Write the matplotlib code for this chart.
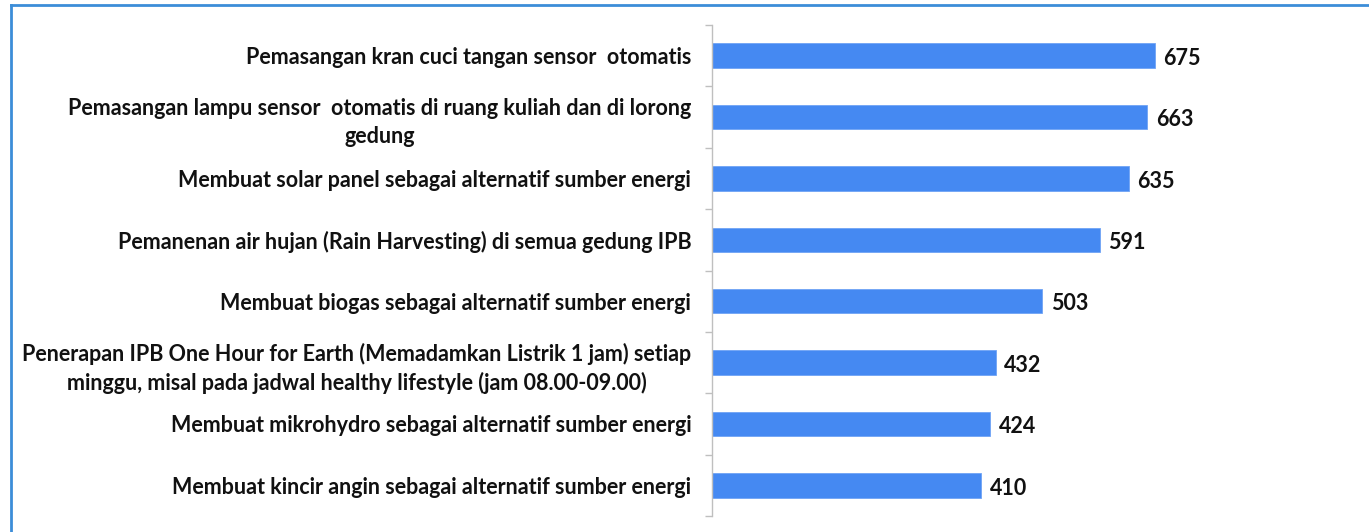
import matplotlib
matplotlib.use("Agg")
import matplotlib.pyplot as plt
import numpy as np
from matplotlib.lines import Line2D

categories = [
    "Pemasangan kran cuci tangan sensor  otomatis",
    "Pemasangan lampu sensor  otomatis di ruang kuliah dan di lorong\ngedung",
    "Membuat solar panel sebagai alternatif sumber energi",
    "Pemanenan air hujan (Rain Harvesting) di semua gedung IPB",
    "Membuat biogas sebagai alternatif sumber energi",
    "Penerapan IPB One Hour for Earth (Memadamkan Listrik 1 jam) setiap\nminggu, misal pada jadwal healthy lifestyle (jam 08.00-09.00)",
    "Membuat mikrohydro sebagai alternatif sumber energi",
    "Membuat kincir angin sebagai alternatif sumber energi",
]
values = [675, 663, 635, 591, 503, 432, 424, 410]

W, H = 1369, 532
fig = plt.figure(figsize=(W / 100, H / 100), dpi=100)
fig.patch.set_facecolor("white")

ax_left, ax_right = 712 / W, 1340 / W
ax_bottom, ax_top = (H - 516) / H, (H - 25) / H
ax = fig.add_axes([ax_left, ax_bottom, ax_right - ax_left, ax_top - ax_bottom])

n = len(categories)
y = np.arange(n)
bars = ax.barh(y, values, height=0.4, color="#4589F2", edgecolor="#6fa3f5", linewidth=0.6)
ax.set_ylim(n - 0.5, -0.5)
ax.set_xlim(0, (1340 - 712) / 0.6566)

font = dict(family="Lato", weight="bold", size=15.5, color="#111111")
ax.set_yticks(y)
ax.set_yticklabels(categories, multialignment="center", linespacing=1.4, **font)
ax.tick_params(axis="y", which="major", length=0, pad=15)
ax.set_yticks(np.arange(-0.5, n, 1), minor=True)
ax.tick_params(axis="y", which="minor", length=5, color="#BFBFBF", width=1)
ax.set_xticks([])

for s in ["top", "right", "bottom"]:
    ax.spines[s].set_visible(False)
ax.spines["left"].set_color("#BFBFBF")
ax.spines["left"].set_linewidth(1)

for b, v in zip(bars, values):
    ax.annotate(str(v), (b.get_width(), b.get_y() + b.get_height() / 2),
                xytext=(6, -2), textcoords="offset points", va="center", ha="left",
                **font)

# outer frame (top and left edge)
fig.add_artist(Line2D([11 / W, 11 / W], [0, 1 - 4.5 / H], transform=fig.transFigure,
                      color="#3C8DD8", linewidth=2))
fig.add_artist(Line2D([11 / W, 1], [1 - 4.5 / H, 1 - 4.5 / H], transform=fig.transFigure,
                      color="#3C8DD8", linewidth=2))

fig.savefig("out.png", dpi=100, facecolor="white")
